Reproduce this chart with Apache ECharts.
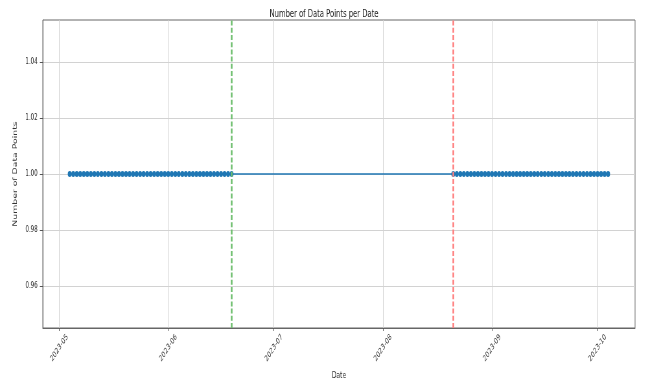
<!DOCTYPE html>
<html>
<head>
<meta charset="utf-8">
<script src="https://cdn.jsdelivr.net/npm/echarts@6/dist/echarts.min.js"></script>
<style>
html,body{margin:0;padding:0;overflow:hidden;background:#fff;width:648px;height:385px}
#wrap{width:648px;height:385px;overflow:hidden;position:relative}
#chart{width:1000px;height:385px;transform:scaleX(0.648);transform-origin:0 0;position:absolute;left:0;top:0}
</style>
</head>
<body>
<div id="wrap"><div id="chart"></div></div>
<script>
// ---- data ----
const dates1 = [
  '2023-05-04','2023-05-05','2023-05-06','2023-05-07','2023-05-08','2023-05-09','2023-05-10',
  '2023-05-11','2023-05-12','2023-05-13','2023-05-14','2023-05-15','2023-05-16','2023-05-17',
  '2023-05-18','2023-05-19','2023-05-20','2023-05-21','2023-05-22','2023-05-23','2023-05-24',
  '2023-05-25','2023-05-26','2023-05-27','2023-05-28','2023-05-29','2023-05-30','2023-05-31',
  '2023-06-01','2023-06-02','2023-06-03','2023-06-04','2023-06-05','2023-06-06','2023-06-07',
  '2023-06-08','2023-06-09','2023-06-10','2023-06-11','2023-06-12','2023-06-13','2023-06-14',
  '2023-06-15','2023-06-16','2023-06-17','2023-06-18','2023-06-19'
];
const counts1 = [
  1,1,1,1,1,1,1, 1,1,1,1,1,1,1, 1,1,1,1,1,1,1, 1,1,1,1,1,1,1,
  1,1,1,1,1,1,1, 1,1,1,1,1,1,1, 1,1,1,1,1
];
const dates2 = [
  '2023-08-21','2023-08-22','2023-08-23','2023-08-24','2023-08-25','2023-08-26','2023-08-27',
  '2023-08-28','2023-08-29','2023-08-30','2023-08-31',
  '2023-09-01','2023-09-02','2023-09-03','2023-09-04','2023-09-05','2023-09-06','2023-09-07',
  '2023-09-08','2023-09-09','2023-09-10','2023-09-11','2023-09-12','2023-09-13','2023-09-14',
  '2023-09-15','2023-09-16','2023-09-17','2023-09-18','2023-09-19','2023-09-20','2023-09-21',
  '2023-09-22','2023-09-23','2023-09-24','2023-09-25','2023-09-26','2023-09-27','2023-09-28',
  '2023-09-29','2023-09-30',
  '2023-10-01','2023-10-02','2023-10-03','2023-10-04'
];
const counts2 = [
  1,1,1,1,1,1,1, 1,1,1,1,
  1,1,1,1,1,1,1, 1,1,1,1,1,1,1, 1,1,1,1,1,1,1, 1,1,1,1,1,1,1, 1,1,
  1,1,1,1
];
const greenLineDate = '2023-06-19';
const redLineDate = '2023-08-21';
const xTickLabels = ['2023-05','2023-06','2023-07','2023-08','2023-09','2023-10'];
const yTickValues = [0.96, 0.98, 1.00, 1.02, 1.04];
const titleText = 'Number of Data Points per Date';
const xName = 'Date';
const yName = 'Number of Data Points';

// ---- helpers ----
function ts(s) {
  const p = s.split('-').map(Number);
  return new Date(p[0], p[1] - 1, p[2] || 1).getTime();
}
function pad2(n) { return (n < 10 ? '0' : '') + n; }

const seriesData = dates1.map((d, i) => [ts(d), counts1[i]])
  .concat(dates2.map((d, i) => [ts(d), counts2[i]]));
const xs = seriesData.map(p => p[0]);
const xMinData = Math.min.apply(null, xs);
const xMaxData = Math.max.apply(null, xs);
const xPad = (xMaxData - xMinData) * 0.05;
const yMin = 0.945, yMax = 1.055;

const FONT = 'DejaVu Sans';
const chart = echarts.init(document.getElementById('chart'), null, { renderer: 'canvas' });

chart.setOption({
  backgroundColor: '#ffffff',
  animation: false,
  title: {
    text: titleText,
    left: 'center',
    top: 4,
    textStyle: { fontFamily: FONT, fontSize: 10.5, fontWeight: 'normal', color: '#222' }
  },
  grid: { left: 66, right: 20, top: 20, bottom: 54, containLabel: false, show: true,
          borderColor: '#666', borderWidth: 1, backgroundColor: 'transparent' },
  xAxis: {
    type: 'value',
    min: xMinData - xPad,
    max: xMaxData + xPad,
    name: xName,
    nameLocation: 'middle',
    nameGap: 43,
    nameTextStyle: { fontFamily: FONT, fontSize: 9.3, color: '#333' },
    axisLine: { show: true, onZero: false, lineStyle: { color: '#666', width: 1 } },
    axisTick: {
      show: true, length: 3, inside: false,
      customValues: xTickLabels.map(ts),
      lineStyle: { color: '#555', width: 1 }
    },
    axisLabel: {
      customValues: xTickLabels.map(ts),
      rotate: 45,
      align: 'center',
      verticalAlign: 'middle',
      margin: 20,
      fontFamily: FONT,
      fontSize: 8.4,
      color: '#333',
      formatter: function (v) {
        const d = new Date(v);
        return d.getFullYear() + '-' + pad2(d.getMonth() + 1);
      }
    },
    splitLine: { show: true, lineStyle: { color: '#d2d2d2', width: 1 } }
  },
  yAxis: {
    type: 'value',
    min: yMin,
    max: yMax,
    name: yName,
    nameLocation: 'middle',
    nameGap: 29,
    nameRotate: 90,
    nameTextStyle: { fontFamily: FONT, fontSize: 9.3, color: '#333' },
    axisLine: { show: true, lineStyle: { color: '#666', width: 1 } },
    axisTick: {
      show: true, length: 4.5,
      customValues: yTickValues,
      lineStyle: { color: '#555', width: 1 }
    },
    axisLabel: {
      customValues: yTickValues,
      margin: 8,
      fontFamily: FONT,
      fontSize: 8.4,
      color: '#333',
      formatter: function (v) { return v.toFixed(2); }
    },
    splitLine: { show: true, lineStyle: { color: '#d2d2d2', width: 1 } }
  },
  series: [
    {
      type: 'line',
      data: seriesData,
      symbol: 'circle',
      symbolSize: 6,
      showSymbol: true,
      showAllSymbol: true,
      lineStyle: { color: '#1f77b4', width: 1.4 },
      itemStyle: { color: '#1f77b4', borderWidth: 0 },
      emphasis: { disabled: true },
      z: 3,
      markLine: {
        silent: true,
        symbol: ['none', 'none'],
        label: { show: false },
        animation: false,
        data: [
          { xAxis: ts(greenLineDate), lineStyle: { color: '#6fbf6f', width: 2.6, type: [5, 2.2], opacity: 1 } },
          { xAxis: ts(redLineDate), lineStyle: { color: '#ff7f7f', width: 2.6, type: [5, 2.2], opacity: 1 } }
        ]
      }
    }
  ]
});
</script>
</body>
</html>
